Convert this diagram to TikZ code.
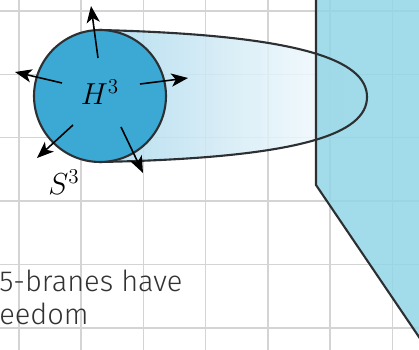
\documentclass[tikz,border=0pt]{standalone}
\usepackage{amsmath,amssymb}
\usepackage{fontspec}
\newfontfamily\lightsf{Fira Sans Light}
\usetikzlibrary{arrows.meta,calc,positioning}
\definecolor{GridGray}{RGB}{212,212,212}
\definecolor{BallBlue}{RGB}{59,169,211}
\definecolor{TubeBlue}{RGB}{170,216,237}
\definecolor{BraneCyan}{RGB}{146,213,229}
\definecolor{EdgeGray}{RGB}{45,48,50}
\definecolor{InkGray}{RGB}{50,50,50}

\begin{document}
\begin{tikzpicture}[x=0.02cm,y=-0.02cm,>={Stealth[length=9.5pt,width=7.5pt,inset=2.5pt]}]
      \useasboundingbox (0,0) rectangle (419,350);
      \clip (0,0) rectangle (419,350);
      % grid behind everything
      \foreach \i in {0,...,6}{
        \draw[GridGray,line width=0.8pt] ({19+62.2*\i},-5)--({19+62.2*\i},355);
      }
      \foreach \j in {0,...,5}{
        \draw[GridGray,line width=0.8pt] (-5,{11+63.4*\j})--(425,{11+63.4*\j});
      }
      % tube
      \shade[left color=TubeBlue,right color=white,fill opacity=0.85]
        (100,30) .. controls (300,35) and (367,60) .. (367,97)
        .. controls (367,134) and (300,158) .. (100,162) -- cycle;
      % brane
      \fill[BraneCyan,fill opacity=0.85] (316,-10)--(316,185)--(440,368)--(440,-10)--cycle;
      \draw[EdgeGray,line width=1.2pt] (316,-10)--(316,185)--(440,368);
      \draw[EdgeGray,line width=1.2pt]
        (100,30) .. controls (300,35) and (367,60) .. (367,97)
        .. controls (367,134) and (300,158) .. (100,162);
      % ball
      \node[circle,draw=EdgeGray,line width=1.2pt,fill=BallBlue,minimum size=2.64cm,inner sep=0pt] (hthree) at (100,96) {};
      \node[font=\LARGE] (hlabel) at (100,92) {$H^3$};
      \foreach \a/\b/\c/\d in {-2/-38/-9/-90, -38/-13/-85/-24, 40/-12/88/-18, -27/29/-63/62, 21/31/43/77}{
        \draw[->,line width=0.9pt,black] ($(hthree.center)+(\a,\b)$)--($(hthree.center)+(\c,\d)$);
      }
      \node[font=\LARGE] (sthree) at (64,182) {$S^3$};
      \node[font=\lightsf\fontsize{16.5}{19.3}\selectfont,text=InkGray,align=left,anchor=base west,inner sep=0pt]
        (branetext) at (-1,325) {5-branes have\\eedom};
    \end{tikzpicture}
\end{document}
